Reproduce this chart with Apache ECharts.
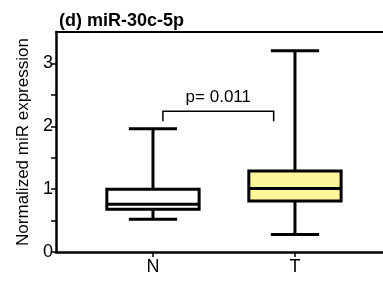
<!DOCTYPE html>
<html>
<head>
<meta charset="utf-8">
<script src="https://cdn.jsdelivr.net/npm/echarts@6/dist/echarts.min.js"></script>
<style>
  html, body { margin: 0; padding: 0; background: #fff; }
  #chart { width: 383px; height: 282px; }
</style>
</head>
<body>
<div id="chart"></div>
<script>
// groups and box statistics
const categories = ["N", "T"];
const whiskerLow = [0.52, 0.28];
const q1 = [0.68, 0.81];
const median = [0.76, 1.01];
const q3 = [1.0, 1.29];
const whiskerHigh = [1.96, 3.2];
const boxColors = ["#ffffff", "#fdf79c"];

const yLabels = [0, 1, 2, 3];
const yTicks = [0, 0.5, 1, 1.5, 2, 2.5, 3];

// significance bracket: [x from, x to, top, leg bottom]
const bracket = [1.07, 1.85, 2.24, 2.08];
const pText = "p= 0.011";

const FONT = "Arial, 'Liberation Sans', sans-serif";

const boxData = categories.map((c, i) => [i + 1, whiskerLow[i], q1[i], median[i], q3[i], whiskerHigh[i]]);

function renderBox(params, api) {
  const x = api.value(0);
  const halfBox = 0.325, halfCap = 0.17;
  const p = (dx, v) => api.coord([x + dx, v]);
  const lo = api.value(1), a = api.value(2), m = api.value(3), b = api.value(4), hi = api.value(5);
  const tl = p(-halfBox, b), br = p(halfBox, a);
  const stroke = { stroke: "#000", lineWidth: 3, fill: null };
  const seg = (x1, y1, x2, y2) => ({ type: "line", shape: { x1, y1, x2, y2 }, style: stroke });
  const c = p(0, 0)[0];
  return {
    type: "group",
    children: [
      seg(c, p(0, b)[1], c, p(0, hi)[1]),
      seg(c, p(0, a)[1], c, p(0, lo)[1]),
      seg(p(-halfCap, hi)[0], p(0, hi)[1], p(halfCap, hi)[0], p(0, hi)[1]),
      seg(p(-halfCap, lo)[0], p(0, lo)[1], p(halfCap, lo)[0], p(0, lo)[1]),
      {
        type: "rect",
        shape: { x: tl[0], y: tl[1], width: br[0] - tl[0], height: br[1] - tl[1] },
        style: { fill: boxColors[params.dataIndex], stroke: "#000", lineWidth: 3 }
      },
      seg(tl[0], p(0, m)[1], br[0], p(0, m)[1])
    ]
  };
}

function renderBracket(params, api) {
  const l = api.coord([api.value(0), api.value(3)]);
  const r = api.coord([api.value(1), api.value(3)]);
  const top = api.coord([api.value(0), api.value(2)])[1];
  const style = { stroke: "#000", lineWidth: 1.5, fill: null };
  return {
    type: "group",
    children: [
      { type: "polyline", shape: { points: [[l[0], l[1]], [l[0], top], [r[0], top], [r[0], r[1]]] }, style },
      {
        type: "text",
        x: (l[0] + r[0]) / 2,
        y: top - 5,
        style: { text: pText, font: "17px " + FONT, fill: "#000", align: "center", verticalAlign: "bottom" }
      }
    ]
  };
}

const chart = echarts.init(document.getElementById("chart"), null, { renderer: "canvas" });
chart.setOption({
  animation: false,
  title: {
    text: "(d) miR-30c-5p",
    left: 54,
    top: 7,
    textStyle: { fontFamily: FONT, fontWeight: "bold", fontSize: 18, color: "#000" }
  },
  grid: { left: 56, right: 0, top: 32, bottom: 30 },
  xAxis: [
    {
      type: "value",
      min: 0.317,
      max: 2.62,
      splitLine: { show: false },
      axisLine: { lineStyle: { color: "#000", width: 2.5 } },
      axisTick: { customValues: [1, 2], length: 5, lineStyle: { color: "#000", width: 1.5 } },
      axisLabel: {
        customValues: [1, 2],
        formatter: (v) => categories[Math.round(v) - 1],
        margin: 6,
        fontFamily: FONT, fontSize: 18, color: "#000"
      }
    },
    {
      // top frame line
      type: "value",
      position: "top",
      min: 0.317,
      max: 2.62,
      splitLine: { show: false },
      axisLine: { show: true, lineStyle: { color: "#000", width: 2 } },
      axisTick: { show: false },
      axisLabel: { show: false }
    }
  ],
  yAxis: {
    type: "value",
    min: 0,
    max: 3.5,
    name: "Normalized miR expression",
    nameLocation: "middle",
    nameGap: 22,
    nameTextStyle: { fontFamily: FONT, fontSize: 17, color: "#000" },
    splitLine: { show: false },
    axisLine: { show: true, lineStyle: { color: "#000", width: 2.5 } },
    axisTick: { show: true, customValues: yTicks, length: 5, lineStyle: { color: "#000", width: 1.5 } },
    axisLabel: { customValues: yLabels, margin: 3, fontFamily: FONT, fontSize: 18, color: "#000" }
  },
  series: [
    { type: "custom", renderItem: renderBox, data: boxData, clip: false },
    { type: "custom", renderItem: renderBracket, data: [bracket], clip: false }
  ]
});
</script>
</body>
</html>
